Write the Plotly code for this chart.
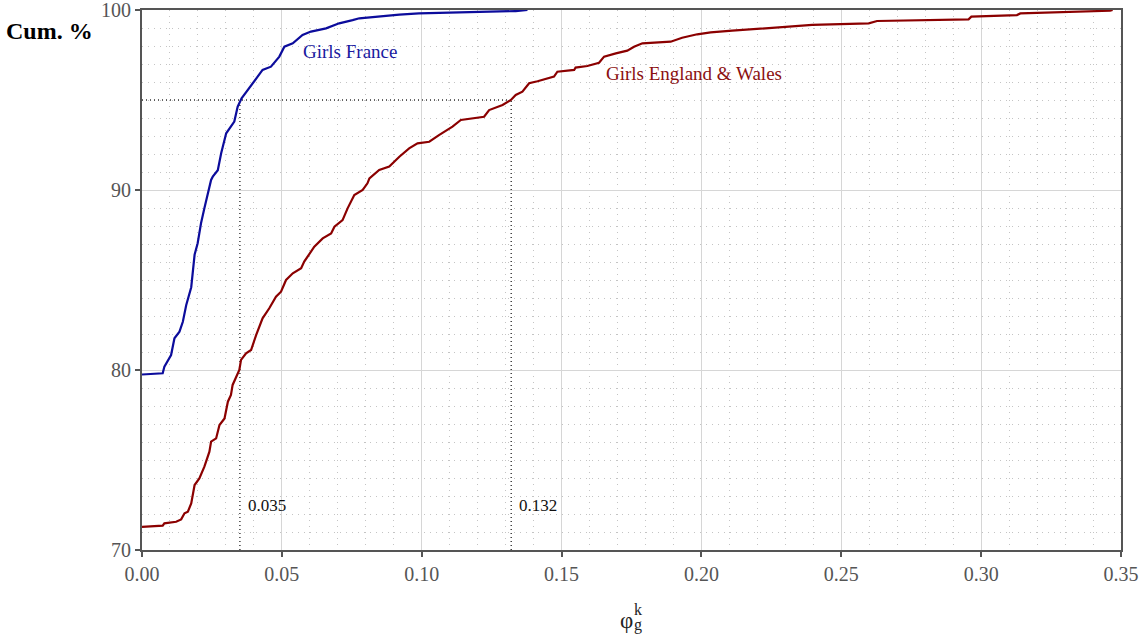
import plotly.graph_objects as go

# Girls France cumulative distribution (phi, cum %)
france_x = [0.0, 0.0074, 0.008, 0.0104, 0.0116, 0.0134, 0.0146, 0.0158, 0.0176, 0.0181,
            0.0188, 0.0199, 0.0211, 0.0223, 0.0235, 0.0247, 0.0253, 0.0271, 0.0283, 0.0301,
            0.033, 0.0342, 0.0356, 0.0378, 0.0402, 0.0431, 0.0461, 0.0491, 0.0509, 0.0539,
            0.0574, 0.0604, 0.0658, 0.0705, 0.0753, 0.0777, 0.092, 0.099, 0.1336, 0.1378]
france_y = [79.75, 79.82, 80.18, 80.83, 81.76, 82.13, 82.68, 83.6, 84.6, 85.56,
            86.4, 87.04, 88.15, 88.98, 89.8, 90.56, 90.74, 91.1, 92.04, 93.15,
            93.8, 94.63, 95.09, 95.56, 96.11, 96.67, 96.85, 97.41, 97.96, 98.15,
            98.61, 98.8, 98.98, 99.26, 99.44, 99.54, 99.74, 99.81, 99.94, 100.0]

# Girls England & Wales cumulative distribution (phi, cum %)
ew_x = [0.0, 0.0074, 0.008, 0.0122, 0.014, 0.0152, 0.0164, 0.0176, 0.0188, 0.0205,
        0.0223, 0.0241, 0.0247, 0.0265, 0.0277, 0.0295, 0.0307, 0.0318, 0.0324, 0.0336,
        0.0348, 0.0354, 0.0372, 0.039, 0.0408, 0.0431, 0.0455, 0.0479, 0.0497, 0.0515,
        0.0539, 0.0569, 0.058, 0.0616, 0.0646, 0.0676, 0.0688, 0.0717, 0.0735, 0.0759,
        0.0789, 0.0806, 0.0813, 0.0848, 0.0884, 0.092, 0.0955, 0.0985, 0.1027, 0.1063,
        0.111, 0.114, 0.1223, 0.1241, 0.1289, 0.1319, 0.1336, 0.136, 0.1384, 0.1414,
        0.1444, 0.1473, 0.1485, 0.1545, 0.155, 0.1592, 0.1634, 0.1652, 0.1694, 0.1735,
        0.1759, 0.1789, 0.189, 0.1931, 0.1985, 0.2033, 0.211, 0.2181, 0.2253, 0.2348,
        0.2396, 0.2598, 0.2628, 0.2955, 0.2965, 0.3128, 0.314, 0.3461, 0.347]
ew_y = [71.28, 71.35, 71.48, 71.57, 71.7, 72.04, 72.13, 72.59, 73.61, 73.98,
        74.63, 75.46, 76.02, 76.2, 76.94, 77.31, 78.24, 78.61, 79.17, 79.54,
        80.0, 80.56, 80.93, 81.11, 81.94, 82.87, 83.43, 84.07, 84.35, 85.0,
        85.37, 85.65, 86.02, 86.85, 87.31, 87.59, 87.96, 88.33, 88.98, 89.72,
        90.0, 90.37, 90.65, 91.11, 91.3, 91.85, 92.31, 92.59, 92.68, 93.06,
        93.52, 93.89, 94.07, 94.44, 94.72, 95.0, 95.28, 95.46, 95.93, 96.04,
        96.17, 96.3, 96.57, 96.67, 96.8, 96.89, 97.07, 97.41, 97.59, 97.74,
        97.96, 98.15, 98.24, 98.46, 98.65, 98.76, 98.85, 98.93, 99.04, 99.15,
        99.17, 99.26, 99.39, 99.48, 99.63, 99.72, 99.81, 99.96, 100.0]

# 95th percentile markers
p95_level = 95
p95_france = 0.035
p95_ew = 0.132

x_ticks = [0.0, 0.05, 0.10, 0.15, 0.20, 0.25, 0.30, 0.35]
y_ticks = [70, 80, 90, 100]

FONT = "Liberation Serif"
BLUE = "#0c0c9c"
RED = "#8b0000"
REFLINE = dict(color="#333333", width=1.4, dash="1px,3px")

fig = go.Figure()

# reference dotted lines
fig.add_trace(go.Scatter(x=[0, p95_ew], y=[p95_level, p95_level], mode="lines",
                         line=REFLINE, hoverinfo="skip", showlegend=False))
for v in (p95_france, p95_ew):
    fig.add_trace(go.Scatter(x=[v, v], y=[70, p95_level], mode="lines",
                             line=REFLINE, hoverinfo="skip", showlegend=False))

fig.add_trace(go.Scatter(x=ew_x, y=ew_y, mode="lines", line=dict(color=RED, width=2.2),
                         name="Girls England & Wales", showlegend=False))
fig.add_trace(go.Scatter(x=france_x, y=france_y, mode="lines", line=dict(color=BLUE, width=2.2),
                         name="Girls France", showlegend=False))

annotations = [
    dict(x=0.0745, y=97.67, text="Girls France", showarrow=False,
         font=dict(family=FONT, size=19, color="#1a1aa0")),
    dict(x=0.1975, y=96.5, text="Girls England & Wales", showarrow=False,
         font=dict(family=FONT, size=19, color="#8b1010")),
    dict(x=p95_france, y=72.45, text=f"{p95_france:.3f}", showarrow=False, xanchor="left",
         xshift=6, font=dict(family=FONT, size=17, color="#111111")),
    dict(x=p95_ew, y=72.45, text=f"{p95_ew:.3f}", showarrow=False, xanchor="left",
         xshift=6, font=dict(family=FONT, size=17, color="#111111")),
    dict(xref="paper", yref="paper", x=0, y=1, xshift=-93, yshift=-21, text="<b>Cum. %</b>",
         showarrow=False, xanchor="center", yanchor="middle",
         font=dict(family=FONT, size=24, color="#000000")),
    dict(xref="paper", yref="paper", x=0.4944, y=0, yshift=-70, text="φ",
         showarrow=False, xanchor="center", yanchor="middle",
         font=dict(family=FONT, size=23, color="#222222")),
    dict(xref="paper", yref="paper", x=0.5066, y=0, yshift=-59, text="k",
         showarrow=False, xanchor="center", yanchor="middle",
         font=dict(family=FONT, size=16, color="#222222")),
    dict(xref="paper", yref="paper", x=0.5066, y=0, yshift=-75, text="g",
         showarrow=False, xanchor="center", yanchor="middle",
         font=dict(family=FONT, size=16, color="#222222")),
]

axis_common = dict(
    showline=True, linecolor="#555555", linewidth=2, mirror=True,
    ticks="outside", ticklen=5, tickcolor="#555555", tickwidth=1.5,
    showgrid=True, gridcolor="#d6d6d6", gridwidth=1, zeroline=False,
    automargin=False, ticklabeloverflow="allow",
    tickfont=dict(family=FONT, size=20, color="#555555"),
)

fig.update_layout(
    width=1140, height=634,
    margin=dict(l=142, r=19, t=10, b=84),
    paper_bgcolor="white", plot_bgcolor="white",
    font=dict(family=FONT),
    annotations=annotations,
    xaxis=dict(range=[0, 0.35], tickvals=x_ticks, ticktext=[f"{v:.2f}" for v in x_ticks],
               minor=dict(dtick=0.01, tick0=0, showgrid=True, gridcolor="#c4c4c4",
                          griddash="1px,5px", gridwidth=1, ticks=""),
               **axis_common),
    yaxis=dict(range=[70, 100], tickvals=y_ticks, ticktext=[str(v) for v in y_ticks],
               minor=dict(dtick=1, tick0=70, showgrid=True, gridcolor="#c4c4c4",
                          griddash="1px,5px", gridwidth=1, ticks=""),
               **axis_common),
)

fig.write_html("out.html", config={"displayModeBar": False},
               post_script="document.body.style.margin='0';")
